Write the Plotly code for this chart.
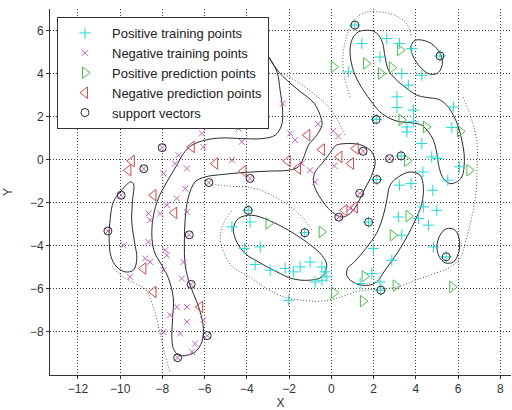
import plotly.graph_objects as go

# ---- training points ----
pos_train_x = [1.44, 2.62, 3.22, 2.30, 3.80, 0.80, 3.33, 4.28, 3.64, 3.10, 3.10, 3.88, 5.77, 3.57, 3.57, 3.88, 5.70,
               4.28, 4.75, 5.04, 4.33, 5.51, 6.06, 3.22, 3.77, 4.80, 4.99, 4.35, 3.17, 4.12, 4.59, 3.33, 1.99, 4.83,
               2.86, 1.91, 1.36, 2.30, -3.85, -4.71, -4.12, -3.37, -3.61, -2.90, -2.19, -1.80, -1.48, -1.01, -0.45,
               -0.30, -0.77, -0.45, -0.22, -2.04]
pos_train_y = [5.40, 5.63, 5.40, 4.77, 5.16, 4.08, 4.00, 3.92, 3.46, 2.92, 2.42, 2.30, 2.45, 1.52, 1.29, 1.76, 1.50,
               0.75, 0.13, 0.06, -0.57, -0.95, -0.33, -1.18, -1.11, -1.42, -2.35, -2.19, -2.66, -2.73, -3.04, -3.51,
               -4.12, -4.05, -4.67, -5.29, -5.75, -5.68, -2.89, -3.12, -4.12, -4.05, -4.87, -5.13, -5.05, -5.21,
               -4.98, -4.75, -4.98, -5.21, -5.68, -5.60, -5.44, -6.53]

neg_train_x = [-6.13, -6.06, -7.24, -7.40, -7.95, -6.84, -6.92, -7.32, -7.79, -8.11, -8.66, -8.58, -6.84, -8.66,
               -9.84, -7.87, -7.79, -7.00, -8.82, -8.58, -7.95, -9.53, -7.08, -7.32, -6.84, -7.63, -6.06, -6.84,
               -7.95, -7.16, -6.45, -6.61, -4.40, -4.24, -4.71, -1.95, -1.72, -2.30, -0.64, 0.09, 0.33, -1.01,
               -1.40, 0.14, -0.77, 0.89]
neg_train_y = [1.22, 0.59, 0.21, -0.18, -0.64, -0.41, -1.34, -1.80, -2.11, -2.50, -2.50, -2.81, -2.42, -3.82,
               -3.97, -4.20, -4.44, -4.75, -4.59, -4.75, -5.13, -5.44, -5.52, -6.84, -6.84, -7.22, -7.45, -7.53,
               -8.00, -8.07, -8.54, -8.93, 1.45, 0.83, -0.02, 1.22, 0.91, 2.61, 1.65, 1.34, 1.09, -0.49,
               -0.18, -0.29, -1.03, -2.27]

# ---- prediction points ----
pos_pred_x = [3.25, 1.64, 2.34, 2.86, 3.32, 4.48, 6.09, 0.11, 6.53, 3.58, 3.65, 2.90, 1.57, 3.04, 5.72, -2.98,
              -0.46, 0.12, 1.49]
pos_pred_y = [5.09, 4.47, 4.00, 4.28, 1.85, 1.52, 1.32, 4.31, -0.49, -0.05, -2.62, -3.51, -5.42, -5.85, -5.91,
              -2.96, -3.35, -6.18, -6.57]

neg_pred_x = [-6.61, -9.45, -9.61, -8.42, -7.44, -8.90, -8.42, -6.21, -5.50, -4.16, -1.14, -0.45, -2.07, -1.58,
              0.38, 0.93, 1.15, 0.62, 1.11]
neg_pred_y = [0.59, -0.06, -0.49, -1.65, -2.47, -5.05, -6.14, -6.84, -0.18, -0.53, 1.14, 0.47, -0.06, -0.41,
              0.13, -0.18, 0.52, -2.35, -2.21]

# ---- support vectors (label +1 / -1) ----
sv_x = [1.11, 5.14, 2.12, 3.30, 2.15, 1.76, 5.43, 2.34, -3.94, -1.26,
        2.75, 1.50, 1.34, 0.35, -3.85, -5.80, -8.01, -8.88, -9.95, -10.58, -6.73, -6.64, -5.88, -7.28]
sv_y = [6.25, 4.82, 1.87, 0.18, -0.92, -2.90, -4.51, -6.06, -2.35, -3.39,
        0.05, 0.39, -1.56, -2.67, -0.87, -1.06, 0.56, -0.42, -1.65, -3.31, -3.49, -5.79, -8.17, -9.20]
sv_label = [1] * 10 + [-1] * 14

# ---- decision boundary (f = 0), closed curves ----
boundary_paths = {
    "s_curve": (
        [1.04, 1.28, 1.59, 1.99, 2.27, 2.43, 2.54, 2.70, 3.01, 3.57, 4.04, 4.51, 5.06, 5.46, 5.77, 6.01, 6.17, 6.28,
         6.28, 6.17, 5.93, 5.62, 5.30, 5.11, 5.02, 4.96, 4.83, 4.59, 4.28, 3.81, 3.25, 2.78, 2.30, 1.91, 1.51, 1.12,
         0.92, 0.89, 1.04],
        [5.70, 5.94, 6.01, 5.97, 5.74, 5.40, 4.77, 4.16, 3.77, 3.31, 3.00, 2.89, 2.81, 2.53, 2.07, 1.52, 0.91, 0.29,
         -0.33, -0.80, -1.03, -1.11, -0.87, -0.41, 0.13, 0.44, 0.91, 1.29, 1.60, 1.71, 1.76, 1.91, 2.22, 2.68, 3.23,
         3.93, 4.62, 5.24, 5.70]),
    "top_ellipse": (
        [3.96, 4.59, 4.99, 5.22, 5.22, 4.99, 4.59, 4.20, 3.88, 3.76, 3.96],
        [5.55, 5.47, 5.16, 4.77, 4.31, 4.00, 4.00, 4.31, 4.77, 5.24, 5.55]),
    "low_ellipse": (
        [5.46, 5.85, 6.06, 6.01, 5.77, 5.38, 5.11, 4.99, 5.14, 5.46],
        [-3.20, -3.27, -3.74, -4.36, -4.75, -4.79, -4.51, -4.05, -3.51, -3.20]),
    "diagonal": (
        [3.17, 3.72, 4.20, 4.35, 4.28, 4.04, 3.57, 3.10, 2.54, 2.15, 1.74, 1.17, 0.74, 0.77, 1.07, 1.64, 2.16, 2.46,
         2.62, 2.78, 3.17],
        [-0.80, -0.57, -0.72, -1.26, -2.03, -2.66, -3.59, -4.36, -5.13, -5.67, -5.83, -5.76, -5.41, -5.04, -4.76,
         -4.11, -3.37, -2.58, -1.88, -1.18, -0.80]),
    "arch": (
        [0.33, 0.97, 1.44, 1.91, 2.07, 1.91, 1.59, 1.28, 0.97, 0.57, 0.26, -0.14, -0.45, -0.69, -0.85, -0.77, -0.45,
         -0.14, 0.18, 0.33],
        [0.71, 0.75, 0.67, 0.36, -0.10, -0.72, -1.34, -1.96, -2.42, -2.66, -2.58, -2.27, -1.88, -1.50, -1.03, -0.57,
         -0.18, 0.21, 0.64, 0.71]),
    "center_lobe": (
        [-4.40, -3.77, -2.98, -2.04, -1.09, -0.45, -0.22, -0.45, -1.09, -1.87, -2.58, -3.45, -4.08, -4.48, -4.64,
         -4.40],
        [-2.73, -2.58, -2.81, -3.27, -3.89, -4.44, -4.90, -5.44, -5.60, -5.52, -5.21, -4.75, -4.36, -3.82, -3.20,
         -2.73]),
    "left_lobe": (
        [-9.53, -9.37, -9.42, -9.45, -9.32, -9.21, -9.37, -9.76, -10.16, -10.43, -10.52, -10.47, -10.32, -10.00,
         -9.68, -9.53],
        [-1.03, -1.11, -1.96, -2.89, -3.82, -4.59, -5.13, -5.21, -4.98, -4.51, -3.66, -2.73, -1.96, -1.50, -1.15,
         -1.03]),
    "big_hook": (
        [-2.95, -2.57, -2.43, -2.31, -2.36, -2.66, -3.29, -4.24, -5.19, -5.98, -6.61, -7.00, -7.32, -7.79, -8.19,
         -8.42, -8.50, -8.38, -8.03, -7.71, -7.48, -7.52, -7.55, -7.48, -7.24, -6.84, -6.45, -6.13, -6.06, -6.13,
         -6.37, -6.69, -6.92, -6.96, -6.92, -6.77, -6.45, -5.98, -5.19, -4.08, -2.98, -2.04, -1.56, -1.33, -1.09,
         -0.69, -0.45, -0.49, -0.82, -1.67, -2.48, -2.95],
        [4.75, 4.06, 3.23, 2.30, 1.60, 1.14, 0.98, 0.98, 1.01, 0.91, 0.67, 0.29, -0.26, -1.03, -1.80,
         -2.58, -3.51, -4.28, -4.90, -5.52, -6.45, -7.38, -8.30, -8.77, -9.08, -9.08, -8.93, -8.46, -7.84, -7.38,
         -6.60, -5.83, -4.90, -3.82, -2.73, -1.73, -1.03, -0.80, -0.69, -0.59, -0.53, -0.49, -0.33, 0.06, 0.67,
         1.14, 1.60, 1.93, 2.62, 3.32, 4.06, 4.75]),
}

# ---- margin lines (f = +/-1), open segments ----
margin_paths = {
    "lower_left": (
        [-10.38, -9.90, -9.29, -8.77, -8.49, -8.25, -8.06, -7.87, -7.64],
        [-4.95, -5.42, -5.74, -6.06, -6.67, -7.46, -8.29, -9.08, -9.87]),
    "right_sweep": (
        [6.23, 6.52, 6.76, 6.90, 6.90, 6.85, 6.66, 6.37, 6.09, 5.52, 4.77, 4.01, 3.06, 2.21, 1.26, 0.41, -0.44,
         -1.34, -2.19, -3.04, -3.85, -4.65, -5.03, -5.27, -5.08, -4.70],
        [2.90, 2.21, 1.46, 0.67, -0.26, -1.42, -2.58, -3.74, -4.58, -5.04, -5.32, -5.60, -5.92, -6.01, -6.11, -6.39,
         -6.57, -6.53, -6.39, -6.01, -5.46, -5.00, -4.44, -3.65, -2.90, -2.35]),
    "top_cap": (
        [0.89, 0.60, 0.55, 0.74, 1.07, 1.64, 2.40, 3.11, 3.58, 3.77],
        [2.90, 3.93, 4.85, 5.78, 6.48, 6.85, 6.85, 6.66, 6.29, 5.73]),
    "upper_mid": (
        [-2.24, -1.58, -0.87, -0.16, 0.32, 0.65],
        [3.97, 3.60, 3.09, 2.48, 1.79, 1.09]),
    "mid_gap": (
        [-5.65, -4.79, -3.94, -3.23, -2.57, -1.91, -1.34, -0.91],
        [-1.14, -1.23, -1.28, -1.46, -1.79, -2.21, -2.72, -3.28]),
}

CYAN = "#22d8d8"
MAGENTA = "#c060c0"
GREEN = "#4cbf4c"
RED = "#cc4a4a"
DARK = "#2a2a2a"
DOTS = "1px,2px"

fig = go.Figure()

for name, (xs, ys) in margin_paths.items():
    fig.add_trace(go.Scatter(x=xs, y=ys, mode="lines", showlegend=False, hoverinfo="skip",
                             line=dict(color="#555555", width=1, dash=DOTS, shape="spline", smoothing=1.0)))

for name, (xs, ys) in boundary_paths.items():
    fig.add_trace(go.Scatter(x=xs, y=ys, mode="lines", showlegend=False, hoverinfo="skip",
                             line=dict(color=DARK, width=1, shape="spline", smoothing=1.0)))

# training points include the support vectors of each class
pos_all_x = pos_train_x + [x for x, l in zip(sv_x, sv_label) if l > 0]
pos_all_y = pos_train_y + [y for y, l in zip(sv_y, sv_label) if l > 0]
neg_all_x = neg_train_x + [x for x, l in zip(sv_x, sv_label) if l < 0]
neg_all_y = neg_train_y + [y for y, l in zip(sv_y, sv_label) if l < 0]

fig.add_trace(go.Scatter(x=pos_all_x, y=pos_all_y, mode="markers", name="Positive training points",
                         marker=dict(symbol="cross-thin", size=8, line=dict(color=CYAN, width=1))))
fig.add_trace(go.Scatter(x=neg_all_x, y=neg_all_y, mode="markers", name="Negative training points",
                         marker=dict(symbol="x-thin", size=6, line=dict(color=MAGENTA, width=1))))
fig.add_trace(go.Scatter(x=pos_pred_x, y=pos_pred_y, mode="markers", name="Positive prediction points",
                         marker=dict(symbol="triangle-right-open", size=10, color=GREEN, line=dict(width=1))))
fig.add_trace(go.Scatter(x=neg_pred_x, y=neg_pred_y, mode="markers", name="Negative prediction points",
                         marker=dict(symbol="triangle-left-open", size=10, color=RED, line=dict(width=1))))
fig.add_trace(go.Scatter(x=sv_x, y=sv_y, mode="markers", name="support vectors",
                         marker=dict(symbol="circle-open", size=8, color=DARK, line=dict(width=1))))

axis_font = dict(family="Liberation Sans, Arial, sans-serif", size=12, color="#333333")
common = dict(showgrid=True, gridcolor="#444444", griddash=DOTS, gridwidth=1, zeroline=False,
              showline=True, linecolor="#333333", linewidth=1, ticks="outside", ticklen=3,
              tickcolor="#333333", tickfont=axis_font, mirror=False)

fig.update_layout(
    width=512, height=410,
    margin=dict(l=50, r=1, t=9, b=35),
    paper_bgcolor="white", plot_bgcolor="white",
    xaxis=dict(range=[-13.32, 8.5], tickvals=list(range(-12, 9, 2)),
               title=dict(text="X", font=axis_font, standoff=4), **common),
    yaxis=dict(range=[-10, 7], tickvals=list(range(-8, 7, 2)),
               title=dict(text="Y", font=axis_font, standoff=14), **common),
    legend=dict(x=7 / 461, y=1 - 8 / 366, xanchor="left", yanchor="top",
                bgcolor="white", bordercolor="#333333", borderwidth=1,
                font=dict(family="Liberation Sans, Arial, sans-serif", size=13, color="#222222"),
                tracegroupgap=0, itemwidth=44),
    showlegend=True,
)

fig.write_html("out.html")
